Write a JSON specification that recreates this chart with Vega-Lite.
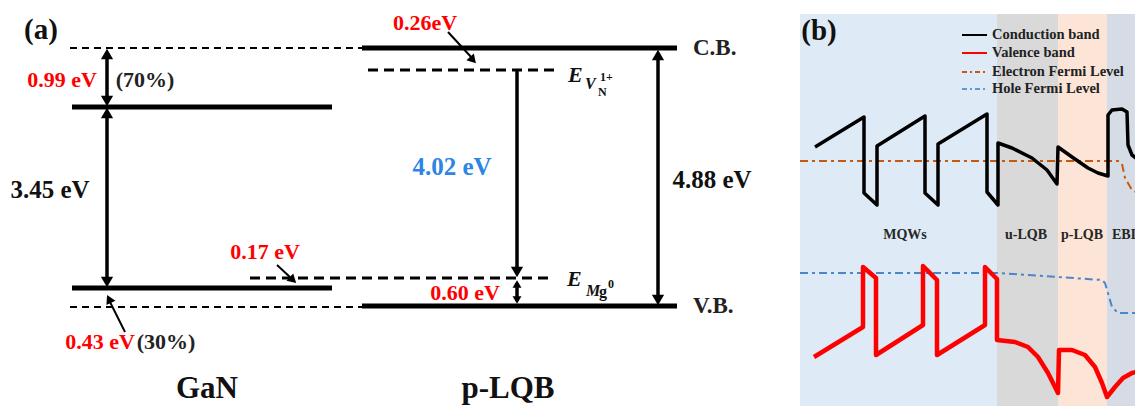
{
  "$schema": "https://vega.github.io/schema/vega-lite/v6.json",
  "autosize": "none",
  "padding": 0,
  "width": 1135,
  "height": 406,
  "background": "white",
  "config": {"view": {"stroke": null}, "text": {"font": "Liberation Serif", "fontWeight": "bold"}},
  "datasets": {
    "bg": [
      {"zone": "MQWs", "x1": 800, "x2": 997, "y1": 14, "y2": 406},
      {"zone": "u-LQB", "x1": 997, "x2": 1058, "y1": 14, "y2": 406},
      {"zone": "p-LQB", "x1": 1058, "x2": 1107, "y1": 14, "y2": 406},
      {"zone": "EBL", "x1": 1107, "x2": 1135, "y1": 14, "y2": 406}
    ],
    "levels": [
      {"x1": 72, "x2": 332, "y1": 107, "y2": 107},
      {"x1": 72, "x2": 332, "y1": 288, "y2": 288},
      {"x1": 362, "x2": 677, "y1": 48, "y2": 48},
      {"x1": 362, "x2": 677, "y1": 306, "y2": 306}
    ],
    "thinDash": [
      {"x1": 70, "x2": 362, "y1": 48, "y2": 48},
      {"x1": 70, "x2": 362, "y1": 307, "y2": 307}
    ],
    "defectDash": [
      {"x1": 368, "x2": 557, "y1": 70, "y2": 70},
      {"x1": 250, "x2": 552, "y1": 278, "y2": 278}
    ],
    "shafts": [
      {"x1": 107, "x2": 107, "y1": 56, "y2": 100},
      {"x1": 107, "x2": 107, "y1": 115, "y2": 281},
      {"x1": 517, "x2": 517, "y1": 70, "y2": 271},
      {"x1": 517, "x2": 517, "y1": 283, "y2": 301},
      {"x1": 658, "x2": 658, "y1": 56, "y2": 299}
    ],
    "pointers": [
      {"x1": 448, "x2": 472, "y1": 32, "y2": 58},
      {"x1": 277, "x2": 291, "y1": 265, "y2": 278},
      {"x1": 125, "x2": 110, "y1": 332, "y2": 302}
    ],
    "headsUp": [
      {"x": 107, "y": 54},
      {"x": 107, "y": 113},
      {"x": 658, "y": 55}
    ],
    "headsDown": [
      {"x": 107, "y": 101},
      {"x": 107, "y": 282},
      {"x": 517, "y": 272},
      {"x": 658, "y": 300}
    ],
    "smallUp": [{"x": 517, "y": 284}],
    "smallDown": [{"x": 517, "y": 300}],
    "slantHeads": [
      {"x": 473, "y": 60, "angle": 138},
      {"x": 293, "y": 280, "angle": 133},
      {"x": 109, "y": 299, "angle": 334}
    ],
    "redLabels": [
      {"x": 62, "y": 80, "label": "0.99 eV"},
      {"x": 425, "y": 23, "label": "0.26eV"},
      {"x": 265, "y": 252, "label": "0.17 eV"},
      {"x": 100, "y": 342, "label": "0.43 eV"},
      {"x": 465, "y": 293, "label": "0.60 eV"}
    ],
    "smallBlack": [
      {"x": 145, "y": 80, "label": "(70%)"},
      {"x": 166, "y": 342, "label": "(30%)"}
    ],
    "bigBlack": [
      {"x": 50, "y": 190, "label": "3.45 eV"},
      {"x": 712, "y": 180, "label": "4.88 eV"}
    ],
    "blueLabels": [{"x": 452, "y": 167, "label": "4.02 eV"}],
    "bandLabels": [
      {"x": 693, "y": 48, "label": "C.B."},
      {"x": 693, "y": 306, "label": "V.B."}
    ],
    "titles": [
      {"x": 207, "y": 389, "label": "GaN"},
      {"x": 508, "y": 389, "label": "p-LQB"}
    ],
    "panelTags": [
      {"x": 41, "y": 30, "label": "(a)"},
      {"x": 819, "y": 31, "label": "(b)"}
    ],
    "eMain": [
      {"x": 568, "y": 75, "label": "E"},
      {"x": 567, "y": 279, "label": "E"}
    ],
    "eSubItalic": [
      {"x": 585, "y": 84, "label": "V"},
      {"x": 586, "y": 291, "label": "M"}
    ],
    "eSubUpright": [
      {"x": 599, "y": 292, "label": "g"}
    ],
    "eTiny": [
      {"x": 598, "y": 92, "label": "N"},
      {"x": 600, "y": 77, "label": "1+"},
      {"x": 608, "y": 284, "label": "0"}
    ],
    "cb": [
      {"i": 0, "x": 815, "y": 147}, {"i": 1, "x": 864, "y": 117}, {"i": 2, "x": 864, "y": 193},
      {"i": 3, "x": 877, "y": 205}, {"i": 4, "x": 877, "y": 146}, {"i": 5, "x": 925, "y": 116},
      {"i": 6, "x": 925, "y": 193}, {"i": 7, "x": 938, "y": 205}, {"i": 8, "x": 938, "y": 144},
      {"i": 9, "x": 987, "y": 114}, {"i": 10, "x": 987, "y": 192}, {"i": 11, "x": 998, "y": 205},
      {"i": 12, "x": 998, "y": 143}, {"i": 13, "x": 1012, "y": 148}, {"i": 14, "x": 1032, "y": 158},
      {"i": 15, "x": 1047, "y": 170}, {"i": 16, "x": 1057, "y": 184}, {"i": 17, "x": 1058, "y": 147},
      {"i": 18, "x": 1072, "y": 157}, {"i": 19, "x": 1088, "y": 168}, {"i": 20, "x": 1098, "y": 173},
      {"i": 21, "x": 1108, "y": 176}, {"i": 22, "x": 1108, "y": 115}, {"i": 23, "x": 1112, "y": 110},
      {"i": 24, "x": 1122, "y": 109}, {"i": 25, "x": 1127, "y": 112}, {"i": 26, "x": 1128, "y": 145},
      {"i": 27, "x": 1132, "y": 155}, {"i": 28, "x": 1136, "y": 158}
    ],
    "vb": [
      {"i": 0, "x": 814, "y": 357}, {"i": 1, "x": 863, "y": 327}, {"i": 2, "x": 863, "y": 267},
      {"i": 3, "x": 876, "y": 278}, {"i": 4, "x": 876, "y": 355}, {"i": 5, "x": 923, "y": 325},
      {"i": 6, "x": 923, "y": 266}, {"i": 7, "x": 937, "y": 280}, {"i": 8, "x": 937, "y": 355},
      {"i": 9, "x": 985, "y": 325}, {"i": 10, "x": 985, "y": 267}, {"i": 11, "x": 997, "y": 279},
      {"i": 12, "x": 997, "y": 340}, {"i": 13, "x": 1015, "y": 342}, {"i": 14, "x": 1028, "y": 347},
      {"i": 15, "x": 1038, "y": 357}, {"i": 16, "x": 1048, "y": 373}, {"i": 17, "x": 1058, "y": 393},
      {"i": 18, "x": 1059, "y": 350}, {"i": 19, "x": 1072, "y": 350}, {"i": 20, "x": 1085, "y": 355},
      {"i": 21, "x": 1095, "y": 367}, {"i": 22, "x": 1102, "y": 383}, {"i": 23, "x": 1107, "y": 397},
      {"i": 24, "x": 1115, "y": 387}, {"i": 25, "x": 1123, "y": 378}, {"i": 26, "x": 1132, "y": 373},
      {"i": 27, "x": 1136, "y": 372}
    ],
    "efn": [
      {"i": 0, "x": 800, "y": 161}, {"i": 1, "x": 1118, "y": 161}, {"i": 2, "x": 1122, "y": 164},
      {"i": 3, "x": 1125, "y": 178}, {"i": 4, "x": 1132, "y": 190}, {"i": 5, "x": 1136, "y": 192}
    ],
    "efp": [
      {"i": 0, "x": 800, "y": 273}, {"i": 1, "x": 997, "y": 273}, {"i": 2, "x": 1102, "y": 280},
      {"i": 3, "x": 1105, "y": 283}, {"i": 4, "x": 1112, "y": 307}, {"i": 5, "x": 1118, "y": 313},
      {"i": 6, "x": 1136, "y": 313}
    ],
    "legBlack": [{"x1": 962, "x2": 987, "y1": 35, "y2": 35}],
    "legRed": [{"x1": 962, "x2": 987, "y1": 53, "y2": 53}],
    "legOrange": [{"x1": 962, "x2": 987, "y1": 72, "y2": 72}],
    "legBlue": [{"x1": 962, "x2": 987, "y1": 89, "y2": 89}],
    "legText": [
      {"x": 992, "y": 35, "label": "Conduction band"},
      {"x": 992, "y": 53, "label": "Valence band"},
      {"x": 992, "y": 72, "label": "Electron Fermi Level"},
      {"x": 992, "y": 89, "label": "Hole Fermi Level"}
    ],
    "zoneText": [
      {"x": 905, "y": 235, "label": "MQWs"},
      {"x": 1026, "y": 235, "label": "u-LQB"},
      {"x": 1082, "y": 235, "label": "p-LQB"}
    ],
    "zoneTextLeft": [
      {"x": 1112, "y": 235, "label": "EBL"}
    ]
  },
  "encoding": {
    "x": {"type": "quantitative", "scale": {"domain": [0, 1135], "nice": false, "zero": false}, "axis": null},
    "y": {"type": "quantitative", "scale": {"domain": [0, 406], "reverse": true, "nice": false, "zero": false}, "axis": null}
  },
  "layer": [
    {"data": {"name": "bg"}, "mark": {"type": "rect"},
     "encoding": {"x": {"field": "x1", "type": "quantitative"}, "x2": {"field": "x2"}, "y": {"field": "y1", "type": "quantitative"}, "y2": {"field": "y2"},
       "color": {"field": "zone", "type": "nominal", "scale": {"domain": ["MQWs", "u-LQB", "p-LQB", "EBL"], "range": ["#DEEAF6", "#D9D9D9", "#FCE4D6", "#D6DCE5"]}, "legend": null}}},
    {"data": {"name": "thinDash"}, "mark": {"type": "rule", "color": "black", "strokeWidth": 2, "strokeDash": [7, 5]},
     "encoding": {"x": {"field": "x1", "type": "quantitative"}, "x2": {"field": "x2"}, "y": {"field": "y1", "type": "quantitative"}, "y2": {"field": "y2"}}},
    {"data": {"name": "defectDash"}, "mark": {"type": "rule", "color": "black", "strokeWidth": 3, "strokeDash": [10, 6]},
     "encoding": {"x": {"field": "x1", "type": "quantitative"}, "x2": {"field": "x2"}, "y": {"field": "y1", "type": "quantitative"}, "y2": {"field": "y2"}}},
    {"data": {"name": "levels"}, "mark": {"type": "rule", "color": "black", "strokeWidth": 5},
     "encoding": {"x": {"field": "x1", "type": "quantitative"}, "x2": {"field": "x2"}, "y": {"field": "y1", "type": "quantitative"}, "y2": {"field": "y2"}}},
    {"data": {"name": "shafts"}, "mark": {"type": "rule", "color": "black", "strokeWidth": 3.5},
     "encoding": {"x": {"field": "x1", "type": "quantitative"}, "x2": {"field": "x2"}, "y": {"field": "y1", "type": "quantitative"}, "y2": {"field": "y2"}}},
    {"data": {"name": "pointers"}, "mark": {"type": "rule", "color": "black", "strokeWidth": 2},
     "encoding": {"x": {"field": "x1", "type": "quantitative"}, "x2": {"field": "x2"}, "y": {"field": "y1", "type": "quantitative"}, "y2": {"field": "y2"}}},
    {"data": {"name": "headsUp"}, "mark": {"type": "point", "shape": "triangle-up", "filled": true, "color": "black", "opacity": 1, "size": 150},
     "encoding": {"x": {"field": "x", "type": "quantitative"}, "y": {"field": "y", "type": "quantitative"}}},
    {"data": {"name": "headsDown"}, "mark": {"type": "point", "shape": "triangle-down", "filled": true, "color": "black", "opacity": 1, "size": 150},
     "encoding": {"x": {"field": "x", "type": "quantitative"}, "y": {"field": "y", "type": "quantitative"}}},
    {"data": {"name": "smallUp"}, "mark": {"type": "point", "shape": "triangle-up", "filled": true, "color": "black", "opacity": 1, "size": 80},
     "encoding": {"x": {"field": "x", "type": "quantitative"}, "y": {"field": "y", "type": "quantitative"}}},
    {"data": {"name": "smallDown"}, "mark": {"type": "point", "shape": "triangle-down", "filled": true, "color": "black", "opacity": 1, "size": 80},
     "encoding": {"x": {"field": "x", "type": "quantitative"}, "y": {"field": "y", "type": "quantitative"}}},
    {"data": {"name": "slantHeads"}, "mark": {"type": "point", "shape": "triangle-up", "filled": true, "color": "black", "opacity": 1, "size": 100},
     "encoding": {"x": {"field": "x", "type": "quantitative"}, "y": {"field": "y", "type": "quantitative"}, "angle": {"field": "angle", "type": "quantitative", "scale": null}}},
    {"data": {"name": "redLabels"}, "mark": {"type": "text", "color": "#FF0000", "fontSize": 22, "align": "center", "baseline": "middle"},
     "encoding": {"x": {"field": "x", "type": "quantitative"}, "y": {"field": "y", "type": "quantitative"}, "text": {"field": "label"}}},
    {"data": {"name": "smallBlack"}, "mark": {"type": "text", "color": "#222222", "fontSize": 22, "align": "center", "baseline": "middle"},
     "encoding": {"x": {"field": "x", "type": "quantitative"}, "y": {"field": "y", "type": "quantitative"}, "text": {"field": "label"}}},
    {"data": {"name": "bigBlack"}, "mark": {"type": "text", "color": "#111111", "fontSize": 25, "align": "center", "baseline": "middle"},
     "encoding": {"x": {"field": "x", "type": "quantitative"}, "y": {"field": "y", "type": "quantitative"}, "text": {"field": "label"}}},
    {"data": {"name": "blueLabels"}, "mark": {"type": "text", "color": "#2D85E5", "fontSize": 25, "align": "center", "baseline": "middle"},
     "encoding": {"x": {"field": "x", "type": "quantitative"}, "y": {"field": "y", "type": "quantitative"}, "text": {"field": "label"}}},
    {"data": {"name": "bandLabels"}, "mark": {"type": "text", "color": "#222222", "fontSize": 23, "align": "left", "baseline": "middle"},
     "encoding": {"x": {"field": "x", "type": "quantitative"}, "y": {"field": "y", "type": "quantitative"}, "text": {"field": "label"}}},
    {"data": {"name": "titles"}, "mark": {"type": "text", "color": "#111111", "fontSize": 31, "align": "center", "baseline": "middle"},
     "encoding": {"x": {"field": "x", "type": "quantitative"}, "y": {"field": "y", "type": "quantitative"}, "text": {"field": "label"}}},
    {"data": {"name": "panelTags"}, "mark": {"type": "text", "color": "#111111", "fontSize": 29, "align": "center", "baseline": "middle"},
     "encoding": {"x": {"field": "x", "type": "quantitative"}, "y": {"field": "y", "type": "quantitative"}, "text": {"field": "label"}}},
    {"data": {"name": "eMain"}, "mark": {"type": "text", "color": "#111111", "fontSize": 22, "fontStyle": "italic", "align": "left", "baseline": "middle"},
     "encoding": {"x": {"field": "x", "type": "quantitative"}, "y": {"field": "y", "type": "quantitative"}, "text": {"field": "label"}}},
    {"data": {"name": "eSubItalic"}, "mark": {"type": "text", "color": "#111111", "fontSize": 16, "fontStyle": "italic", "align": "left", "baseline": "middle"},
     "encoding": {"x": {"field": "x", "type": "quantitative"}, "y": {"field": "y", "type": "quantitative"}, "text": {"field": "label"}}},
    {"data": {"name": "eSubUpright"}, "mark": {"type": "text", "color": "#111111", "fontSize": 16, "align": "left", "baseline": "middle"},
     "encoding": {"x": {"field": "x", "type": "quantitative"}, "y": {"field": "y", "type": "quantitative"}, "text": {"field": "label"}}},
    {"data": {"name": "eTiny"}, "mark": {"type": "text", "color": "#111111", "fontSize": 12, "align": "left", "baseline": "middle"},
     "encoding": {"x": {"field": "x", "type": "quantitative"}, "y": {"field": "y", "type": "quantitative"}, "text": {"field": "label"}}},
    {"data": {"name": "efn"}, "mark": {"type": "line", "color": "#C65911", "strokeWidth": 2, "strokeDash": [8, 4, 3, 4], "clip": true},
     "encoding": {"x": {"field": "x", "type": "quantitative"}, "y": {"field": "y", "type": "quantitative"}, "order": {"field": "i"}}},
    {"data": {"name": "efp"}, "mark": {"type": "line", "color": "#4A86C8", "strokeWidth": 2, "strokeDash": [8, 4, 3, 4], "clip": true},
     "encoding": {"x": {"field": "x", "type": "quantitative"}, "y": {"field": "y", "type": "quantitative"}, "order": {"field": "i"}}},
    {"data": {"name": "cb"}, "mark": {"type": "line", "color": "black", "strokeWidth": 3.5, "strokeJoin": "round", "clip": true},
     "encoding": {"x": {"field": "x", "type": "quantitative"}, "y": {"field": "y", "type": "quantitative"}, "order": {"field": "i"}}},
    {"data": {"name": "vb"}, "mark": {"type": "line", "color": "#FF0000", "strokeWidth": 4.5, "strokeJoin": "round", "clip": true},
     "encoding": {"x": {"field": "x", "type": "quantitative"}, "y": {"field": "y", "type": "quantitative"}, "order": {"field": "i"}}},
    {"data": {"name": "legBlack"}, "mark": {"type": "rule", "color": "black", "strokeWidth": 2},
     "encoding": {"x": {"field": "x1", "type": "quantitative"}, "x2": {"field": "x2"}, "y": {"field": "y1", "type": "quantitative"}, "y2": {"field": "y2"}}},
    {"data": {"name": "legRed"}, "mark": {"type": "rule", "color": "#FF0000", "strokeWidth": 2},
     "encoding": {"x": {"field": "x1", "type": "quantitative"}, "x2": {"field": "x2"}, "y": {"field": "y1", "type": "quantitative"}, "y2": {"field": "y2"}}},
    {"data": {"name": "legOrange"}, "mark": {"type": "rule", "color": "#C65911", "strokeWidth": 2, "strokeDash": [5, 3, 2, 3]},
     "encoding": {"x": {"field": "x1", "type": "quantitative"}, "x2": {"field": "x2"}, "y": {"field": "y1", "type": "quantitative"}, "y2": {"field": "y2"}}},
    {"data": {"name": "legBlue"}, "mark": {"type": "rule", "color": "#5B9BD5", "strokeWidth": 2, "strokeDash": [5, 3, 2, 3]},
     "encoding": {"x": {"field": "x1", "type": "quantitative"}, "x2": {"field": "x2"}, "y": {"field": "y1", "type": "quantitative"}, "y2": {"field": "y2"}}},
    {"data": {"name": "legText"}, "mark": {"type": "text", "color": "#222222", "fontSize": 14.5, "align": "left", "baseline": "middle"},
     "encoding": {"x": {"field": "x", "type": "quantitative"}, "y": {"field": "y", "type": "quantitative"}, "text": {"field": "label"}}},
    {"data": {"name": "zoneText"}, "mark": {"type": "text", "color": "#262626", "fontSize": 14, "align": "center", "baseline": "middle"},
     "encoding": {"x": {"field": "x", "type": "quantitative"}, "y": {"field": "y", "type": "quantitative"}, "text": {"field": "label"}}},
    {"data": {"name": "zoneTextLeft"}, "mark": {"type": "text", "color": "#262626", "fontSize": 14, "align": "left", "baseline": "middle"},
     "encoding": {"x": {"field": "x", "type": "quantitative"}, "y": {"field": "y", "type": "quantitative"}, "text": {"field": "label"}}}
  ]
}
